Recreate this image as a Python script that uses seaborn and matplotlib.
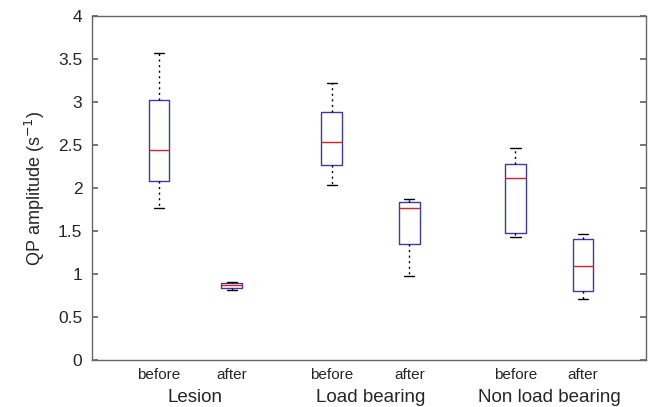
#!/usr/bin/env python3
import numpy as np
import pandas as pd
import matplotlib
matplotlib.use("Agg")
import matplotlib.pyplot as plt
import matplotlib.transforms as mtransforms
import seaborn as sns

# five-number summaries: min, q1, median, q3, max
groups = ["Lesion", "Load bearing", "Non load bearing"]
conditions = ["before", "after"]
lesion_before = [1.77, 2.08, 2.44, 3.03, 3.57]
lesion_after = [0.82, 0.84, 0.87, 0.90, 0.91]
load_before = [2.04, 2.27, 2.54, 2.89, 3.22]
load_after = [0.98, 1.35, 1.77, 1.84, 1.87]
nonload_before = [1.43, 1.48, 2.12, 2.28, 2.47]
nonload_after = [0.71, 0.80, 1.10, 1.41, 1.47]
y_ticks = [0, 0.5, 1, 1.5, 2, 2.5, 3, 3.5, 4]

series = [lesion_before, lesion_after, load_before, load_after,
          nonload_before, nonload_after]

# box x positions (the groups are not evenly spaced in the original)
box_pos = [1.0, 1.81, 2.92, 3.78, 4.96, 5.71]

rows = []
for i, vals in enumerate(series):
    for v in vals:
        rows.append({"pos": box_pos[i], "value": v,
                     "cond": conditions[i % 2], "group": groups[i // 2]})
df = pd.DataFrame(rows)

sns.set_theme(style="white")
plt.rcParams['font.family'] = ['Liberation Sans', 'DejaVu Sans']

fig = plt.figure(figsize=(6.54, 4.07), dpi=100)
ax = fig.add_axes([0.1407, 0.1155, 0.8471, 0.844])

blue = "#3a3ab0"
sns.boxplot(data=df, x="pos", y="value", native_scale=True, ax=ax,
            fill=False, color=blue, width=0.31, whis=(0, 100),
            linewidth=1.0,
            medianprops=dict(color="#e02020", linewidth=1.0),
            whiskerprops=dict(color="black", linestyle=(0, (1.5, 2.5)), linewidth=1.0),
            capprops=dict(color="black", linewidth=1.0),
            showfliers=False)

ax.set_xlim(0.256, 6.41)
ax.set_ylim(0, 4)
ax.set_yticks(y_ticks)
ax.set_yticklabels([f"{t:g}" for t in y_ticks], fontsize=12.5)
ax.set_xticks(box_pos)
ax.set_xticklabels([conditions[i % 2] for i in range(len(box_pos))], fontsize=11)
ax.tick_params(axis="x", length=0, pad=6)
ax.tick_params(axis="y", direction="in", length=4, right=True, left=True,
               color="#666666", pad=7)
ax.set_xlabel("")
ax.set_ylabel("QP amplitude (s$^{-1}$)", fontsize=13, labelpad=8)

for s in ax.spines.values():
    s.set_visible(True)
    s.set_color("#666666")
    s.set_linewidth(1.0)

# group names under the pairs of boxes
trans = mtransforms.blended_transform_factory(ax.transData, ax.transAxes)
for g, name in enumerate(groups):
    xc = (box_pos[2 * g] + box_pos[2 * g + 1]) / 2
    ax.text(xc, -0.11, name, transform=trans, ha="center", va="center",
            fontsize=13.5)

fig.savefig("out.png", dpi=100)
